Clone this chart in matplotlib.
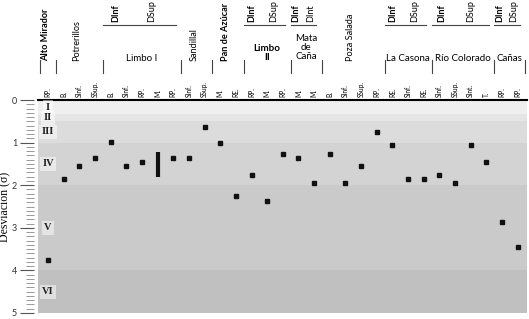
import numpy as np
import matplotlib.pyplot as plt
import matplotlib.transforms as mtransforms
from matplotlib.ticker import MultipleLocator

# columnas (unidades) y su desviacion en sigma
columnas = ['RP.',
            'B.', 'SInf.', 'SSup.',
            'B.', 'SInf.', 'RP.', 'M.', 'RP.',
            'SInf.', 'SSup.',
            'M.', 'RE.',
            'RP.', 'M.', 'RP.',
            'M.', 'M.',
            'B.', 'SInf.', 'SSup.', 'RP.',
            'RE.', 'SInf.', 'RE.',
            'SInf.', 'SSup.', 'SInt.', 'T.',
            'RP.', 'RP.']
desv_min = [3.76,
            1.86, 1.55, 1.36,
            0.98, 1.55, 1.46, 1.23, 1.36,
            1.36, 0.64,
            1.01, 2.26,
            1.76, 2.36, 1.26,
            1.36, 1.96,
            1.26, 1.96, 1.56, 0.76,
            1.06, 1.86, 1.86,
            1.76, 1.96, 1.06, 1.46,
            2.86, 3.46]
desv_max = list(desv_min)
desv_max[7] = 1.80  # Limbo I, M. es un rango

# localidades y numero de columnas
grupos = ['Alto Mirador', 'Potrerillos', 'Limbo I', 'Sandillal', 'Pan de Azúcar',
          'Limbo\nII', 'Mata\nde\nCaña', 'Poza Salada', 'La Casona',
          'Río Colorado', 'Cañas']
n_cols = [1, 3, 5, 2, 2, 3, 2, 4, 3, 4, 2]
subdiv = [None, None, ('DInf', 'DSup'), None, None, ('DInf', 'DSup'),
          ('DInf', 'DInt'), None, ('DInf', 'DSup'), ('DInf', 'DSup'),
          ('DInf', 'DSup')]

# clases de desviacion
clases = ['I', 'II', 'III', 'IV', 'V', 'VI']
limites = [0, 0.33, 0.5, 1, 2, 4, 5]

verticales = ['Alto Mirador', 'Potrerillos', 'Sandillal', 'Pan de Azúcar', 'Poza Salada']
negritas = ['Alto Mirador', 'Pan de Azúcar', 'Limbo\nII']
colores = ['#efefef', '#e5e5e5', '#dcdcdc', '#d3d3d3', '#cacaca', '#c0c0c0']

sans = 'Lato'
serif = 'Liberation Serif'

fig = plt.figure(figsize=(5.29, 3.19), dpi=100)
ax = fig.add_axes([38 / 529, 6 / 319, 489 / 529, 213 / 319])

x = np.arange(len(columnas))
ax.set_xlim(-0.64, 30.6)
ax.set_ylim(5, 0)

for i, c in enumerate(clases):
    lo, hi = limites[i], limites[i + 1]
    ax.axhspan(lo, hi, color=colores[i], lw=0, zorder=0)
    ax.text(0, (lo + hi) / 2, c, family=serif, fontsize=7.5, fontweight='bold',
            ha='center', va='center', color='#222222',
            bbox=dict(boxstyle='square,pad=0.25', fc='white', ec='none', alpha=0.5))

dmin = np.array(desv_min)
dmax = np.array(desv_max)
punto = dmin == dmax
ax.plot(x[punto], dmin[punto], 's', color='#111111', markersize=3, zorder=3)
ax.vlines(x[~punto], dmin[~punto], dmax[~punto], color='#111111', lw=3, zorder=3)

# ejes
for s in ['right', 'bottom']:
    ax.spines[s].set_visible(False)
ax.spines['top'].set_linewidth(1.5)
ax.spines['left'].set_position(('outward', 3))
ax.spines['left'].set_color('none')
ax.set_xticks([])
ax.yaxis.set_major_locator(MultipleLocator(1))
ax.yaxis.set_minor_locator(MultipleLocator(0.1))
ax.tick_params(axis='y', which='major', length=10, width=0.8, color='#555555',
               labelsize=6.5, labelcolor='#333333', pad=2)
ax.tick_params(axis='y', which='minor', length=6, width=0.6, color='#888888')
for lab in ax.get_yticklabels():
    lab.set_family(sans)
ax.set_ylabel('Desviación (σ)', family=serif, fontsize=8.5, labelpad=1)

# encabezado
trans = mtransforms.blended_transform_factory(ax.transData, ax.transAxes)
for i, c in enumerate(columnas):
    ax.text(i, 1.014, c, rotation=90, ha='center', va='bottom', fontsize=4.8,
            family=sans, transform=trans, clip_on=False)

inicio = 0
y_sep = (1.127, 1.188)
for g, n, sd in zip(grupos, n_cols, subdiv):
    lo, hi = inicio - 0.5, inicio + n - 0.5
    cx = (lo + hi) / 2
    peso = 'bold' if g in negritas else 'normal'
    if g in verticales:
        ax.text(cx - 0.15, 1.182, g, rotation=90, ha='center', va='bottom',
                fontsize=6.6, fontweight=peso, family=sans, transform=trans, clip_on=False)
    else:
        lineas = g.count('\n') + 1
        ax.text(cx, 1.197 + 0.025 * (lineas - 1), g, ha='center', va='center',
                fontsize=7, fontweight=peso, family=sans, linespacing=1.0,
                transform=trans, clip_on=False)
    ax.plot([max(lo, -0.6)] * 2, y_sep, color='#444444', lw=0.8,
            transform=trans, clip_on=False)
    if sd is not None:
        w = hi - lo
        ax.plot([lo, hi - 0.35], [1.352, 1.352], color='#444444', lw=0.8,
                transform=trans, clip_on=False)
        ax.text(lo + 0.17 * w, 1.366, sd[0], rotation=90, ha='center', va='bottom',
                fontsize=6.5, fontweight='bold', family=sans, transform=trans, clip_on=False)
        ax.text(lo + 0.63 * w, 1.366, sd[1], rotation=90, ha='center', va='bottom',
                fontsize=6.5, family=sans, transform=trans, clip_on=False)
    inicio += n
ax.plot([30.5] * 2, y_sep, color='#444444', lw=0.8, transform=trans, clip_on=False)

fig.savefig('out.png', dpi=100, facecolor='white')
